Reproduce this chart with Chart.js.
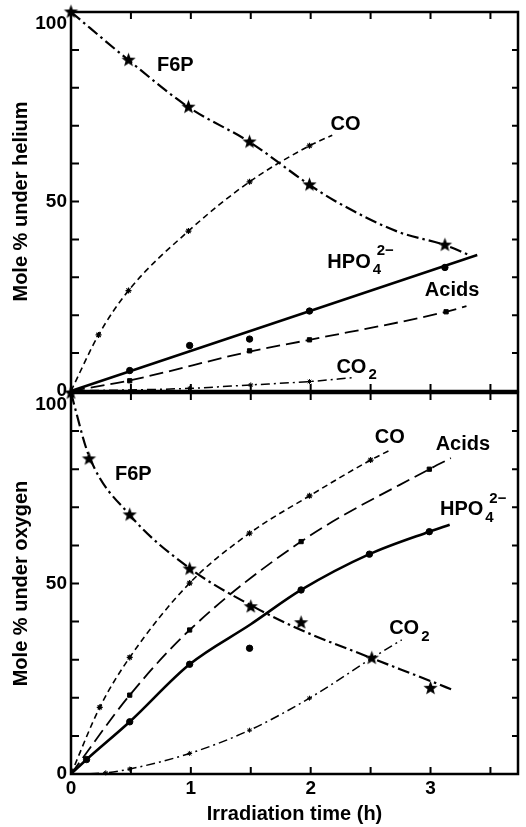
<!DOCTYPE html>
<html><head><meta charset="utf-8">
<script src="https://cdn.jsdelivr.net/npm/chart.js@4.4.1/dist/chart.umd.min.js"></script>
<style>
html,body{margin:0;padding:0;background:#fff;}
#wrap{position:relative;width:526px;height:827px;overflow:hidden;background:#fff;}
#c1{position:absolute;left:0;top:0;}
#c2{position:absolute;left:0;top:382px;}
</style></head><body>
<div id="wrap">
<canvas id="c1" width="526" height="400"></canvas>
<canvas id="c2" width="526" height="445"></canvas>
</div>
<script>
// ---- tick labels ----
const X_TICK_LABELS = [0, 1, 2, 3];
const Y_TICK_LABELS = [0, 50, 100];
const X_MINOR = [0.5, 1, 1.5, 2, 2.5, 3, 3.5];
const Y_MINOR = [10, 20, 30, 40, 50, 60, 70, 80, 90];

// ---- under helium (top panel): measured points ----
const heF6P_t  = [0, 0.48, 0.98, 1.49, 1.99, 3.12];
const heF6P_v  = [100, 87.3, 74.9, 65.7, 54.4, 38.5];
const heCO_t   = [0.23, 0.48, 0.98, 1.49, 1.99];
const heCO_v   = [14.8, 26.5, 42.2, 55.2, 64.7];
const heHPO_t  = [0.49, 0.99, 1.49, 1.99, 3.12];
const heHPO_v  = [5.4, 12.0, 13.7, 21.1, 32.6];
const heAc_t   = [0.49, 1.49, 1.99, 3.13];
const heAc_v   = [2.7, 10.6, 13.5, 20.9];
const heCO2_t  = [0.99, 1.5, 1.99];
const heCO2_v  = [0.7, 1.6, 2.5];
// drawn curves (helium)
const heF6Pc_t = [0, 0.48, 0.98, 1.49, 1.99, 2.2, 2.73, 3.12, 3.32];
const heF6Pc_v = [100, 87.3, 74.9, 65.7, 54.4, 50.2, 42.0, 38.5, 35.9];
const heCOc_t  = [0, 0.23, 0.48, 0.98, 1.49, 1.99, 2.18];
const heCOc_v  = [0, 14.8, 26.5, 42.2, 55.2, 64.7, 67.5];
const heHPOc_t = [0, 3.39];
const heHPOc_v = [0, 35.9];
const heAcc_t  = [0, 0.49, 1.49, 1.99, 3.13, 3.3];
const heAcc_v  = [0, 2.8, 10.4, 13.5, 20.9, 22.4];
const heCO2c_t = [0, 0.99, 1.5, 1.99, 2.35];
const heCO2c_v = [0, 0.7, 1.6, 2.5, 3.5];

// ---- under oxygen (bottom panel): measured points ----
const oxF6P_t  = [0, 0.15, 0.49, 0.99, 1.5, 1.92, 2.51, 3.0];
const oxF6P_v  = [100, 82.7, 68.0, 53.8, 43.9, 39.7, 30.4, 22.5];
const oxCO_t   = [0.24, 0.49, 0.99, 1.49, 1.99, 2.5];
const oxCO_v   = [17.5, 30.6, 50.1, 63.2, 73.0, 82.4];
const oxAc_t   = [0.49, 0.99, 1.92, 2.99];
const oxAc_v   = [20.7, 37.8, 61.0, 80.0];
const oxHPO_t  = [0.13, 0.49, 0.99, 1.49, 1.92, 2.49, 2.99];
const oxHPO_v  = [3.8, 13.7, 28.8, 33.0, 48.3, 57.7, 63.6];
const oxCO2_t  = [0.29, 0.49, 0.99, 1.49, 1.99, 2.51];
const oxCO2_v  = [0.3, 1.3, 5.4, 11.5, 19.9, 30.4];
// drawn curves (oxygen)
const oxF6Pc_t = [0, 0.15, 0.49, 0.99, 1.5, 1.92, 2.51, 3.0, 3.19];
const oxF6Pc_v = [100, 83.5, 68.0, 54.0, 44.3, 37.8, 30.4, 24.4, 22.0];
const oxCOc_t  = [0, 0.24, 0.49, 0.99, 1.49, 1.99, 2.5, 2.65];
const oxCOc_v  = [0, 17.5, 30.6, 50.1, 63.2, 73.0, 82.4, 84.8];
const oxAcc_t  = [0, 0.49, 0.99, 1.92, 2.99, 3.17];
const oxAcc_v  = [0, 20.7, 37.8, 61.0, 80.0, 82.9];
const oxHPOc_t = [0, 0.13, 0.49, 0.99, 1.5, 1.92, 2.49, 2.99, 3.16];
const oxHPOc_v = [0, 3.8, 13.7, 28.8, 39.3, 48.3, 57.7, 63.6, 65.4];
const oxCO2c_t = [0, 0.29, 0.49, 0.99, 1.49, 1.99, 2.51, 2.76];
const oxCO2c_v = [0, 0.3, 1.3, 5.4, 11.5, 19.9, 30.4, 35.2];

// ---- in-plot labels (anchored in data units) ----
const NOTES_HELIUM = [
  {text:'F6P', t:0.87, v:85.8},
  {text:'CO', t:2.29, v:70.4},
  {text:'HPO', sub:'4', sup:'2\u2212', t:2.32, v:34.0},
  {text:'Acids', t:3.18, v:26.6},
  {text:'CO', sub:'2', t:2.34, v:6.3}
];
const NOTES_OXYGEN = [
  {text:'F6P', t:0.52, v:78.7},
  {text:'CO', t:2.66, v:88.2},
  {text:'Acids', t:3.27, v:86.4},
  {text:'HPO', sub:'4', sup:'2\u2212', t:3.26, v:69.3},
  {text:'CO', sub:'2', t:2.78, v:38.1}
];

const FONT = "'Liberation Sans', Arial, Helvetica, sans-serif";

function starImg(r){
  const s = Math.ceil(r*2+2);
  const c = document.createElement('canvas'); c.width = s; c.height = s;
  const g = c.getContext('2d'); g.fillStyle = '#000'; g.beginPath();
  for (let i=0;i<10;i++){
    const rr = i%2 ? r*0.42 : r;
    const a = -Math.PI/2 + i*Math.PI/5;
    g.lineTo(s/2 + rr*Math.cos(a), s/2 + rr*Math.sin(a));
  }
  g.closePath(); g.fill();
  return c;
}
const STAR = starImg(7.5);

const pts = (t, v) => t.map((x, i) => ({x, y: v[i]}));

function curve(t, v, dash, w){
  return {data: pts(t, v), showLine: true, pointRadius: 0, borderColor: '#000',
    borderWidth: w, borderDash: dash, cubicInterpolationMode: 'monotone', clip: false};
}
function marks(t, v, style, r, bw){
  return {data: pts(t, v), showLine: false, pointStyle: style, pointRadius: r,
    pointBackgroundColor: '#000', pointBorderColor: '#000', pointBorderWidth: bw || 1, clip: false};
}

const DASH_F6P = [12, 4, 2.5, 4];
const DASH_CO = [6, 4];
const DASH_AC = [14, 6];
const DASH_CO2 = [9, 4, 2, 4];

const frameTicks = {
  id: 'frameTicks',
  afterDraw(chart){
    const {ctx, chartArea: a, scales: {x, y}} = chart;
    ctx.save();
    ctx.strokeStyle = '#000';
    ctx.lineWidth = 2.5;
    ctx.strokeRect(a.left, a.top, a.right - a.left, a.bottom - a.top);
    ctx.lineWidth = 2;
    ctx.beginPath();
    for (const t of X_MINOR){
      const px = x.getPixelForValue(t);
      ctx.moveTo(px, a.top); ctx.lineTo(px, a.top + 7);
      ctx.moveTo(px, a.bottom); ctx.lineTo(px, a.bottom - 7);
    }
    for (const v of Y_MINOR){
      const py = y.getPixelForValue(v);
      ctx.moveTo(a.left, py); ctx.lineTo(a.left + 8, py);
      ctx.moveTo(a.right, py); ctx.lineTo(a.right - 6, py);
    }
    ctx.stroke();
    ctx.restore();
  }
};

const notesPlugin = {
  id: 'notes',
  afterDatasetsDraw(chart, args, opts){
    const {ctx, scales: {x, y}} = chart;
    ctx.save();
    ctx.fillStyle = '#000';
    ctx.textBaseline = 'middle';
    for (const n of opts.items){
      const px = x.getPixelForValue(n.t), py = y.getPixelForValue(n.v);
      ctx.font = 'bold 20px ' + FONT;
      ctx.textAlign = 'center';
      ctx.fillText(n.text, px, py);
      const w = ctx.measureText(n.text).width;
      let ex = px + w/2;
      ctx.textAlign = 'left';
      ctx.font = 'bold 15px ' + FONT;
      if (n.sub){ ctx.fillText(n.sub, ex + 2, py + 8); }
      if (n.sup){ ctx.fillText(n.sup, ex + (n.sub ? 6 : 2), py - 11); }
    }
    ctx.restore();
  }
};

function makeChart(id, datasets, notes, yTitle, isBottom){
  return new Chart(document.getElementById(id), {
    type: 'scatter',
    data: {datasets},
    plugins: [frameTicks, notesPlugin],
    options: {
      animation: false, responsive: false, devicePixelRatio: 1,
      layout: {padding: {top: isBottom ? 11 : 12, right: 2, left: 0, bottom: isBottom ? 0 : 9}},
      plugins: {legend: {display: false}, tooltip: {enabled: false}, notes: {items: notes}},
      scales: {
        x: {
          type: 'linear', min: 0, max: 3.73, display: isBottom,
          grid: {display: false, drawTicks: false}, border: {display: false},
          ticks: {stepSize: 1, includeBounds: false, autoSkip: false, maxRotation: 0, padding: 3,
            color: '#000', font: {family: FONT, size: 19, weight: 'bold'},
            callback: v => X_TICK_LABELS.includes(v) ? String(v) : ''},
          title: {display: true, text: 'Irradiation time (h)', color: '#000',
            font: {family: FONT, size: 20, weight: 'bold'}, padding: {top: 0, bottom: 1}},
          afterFit(s){
            s.height = isBottom ? 53 : 0;
            s.paddingLeft = 0; s.paddingRight = 0;
          }
        },
        y: {
          type: 'linear', min: 0, max: 100,
          grid: {display: false, drawTicks: false}, border: {display: false},
          ticks: {stepSize: 50, padding: 4, color: '#000', font: {family: FONT, size: 19, weight: 'bold'},
            callback: v => Y_TICK_LABELS.includes(v) ? (v === 100 ? ['', '100'] : String(v)) : ''},
          title: {display: true, text: yTitle, color: '#000',
            font: {family: FONT, size: 20, weight: 'bold'}, padding: {top: 9, bottom: 0}},
          afterFit(s){
            s.width = 71;
            s.paddingTop = 0; s.paddingBottom = 0;
          }
        }
      }
    }
  });
}

makeChart('c1', [
  marks(heF6P_t, heF6P_v, STAR, 7),
  marks(heCO_t, heCO_v, 'star', 3, 1.2),
  marks(heHPO_t, heHPO_v, 'circle', 3.2),
  marks(heAc_t, heAc_v, 'rect', 3),
  marks(heCO2_t, heCO2_v, 'star', 2.5, 1),
  curve(heF6Pc_t, heF6Pc_v, DASH_F6P, 2.2),
  curve(heCOc_t, heCOc_v, DASH_CO, 1.6),
  curve(heHPOc_t, heHPOc_v, [], 2.6),
  curve(heAcc_t, heAcc_v, DASH_AC, 1.8),
  curve(heCO2c_t, heCO2c_v, DASH_CO2, 1.5)
], NOTES_HELIUM, 'Mole % under helium', false);

makeChart('c2', [
  marks(oxF6P_t, oxF6P_v, STAR, 7),
  marks(oxCO_t, oxCO_v, 'star', 3, 1.2),
  marks(oxHPO_t, oxHPO_v, 'circle', 3.2),
  marks(oxAc_t, oxAc_v, 'rect', 3),
  marks(oxCO2_t, oxCO2_v, 'star', 2.5, 1),
  curve(oxF6Pc_t, oxF6Pc_v, DASH_F6P, 2.2),
  curve(oxCOc_t, oxCOc_v, DASH_CO, 1.6),
  curve(oxHPOc_t, oxHPOc_v, [], 2.6),
  curve(oxAcc_t, oxAcc_v, DASH_AC, 1.8),
  curve(oxCO2c_t, oxCO2c_v, DASH_CO2, 1.5)
], NOTES_OXYGEN, 'Mole % under oxygen', true);
</script>
</body></html>
